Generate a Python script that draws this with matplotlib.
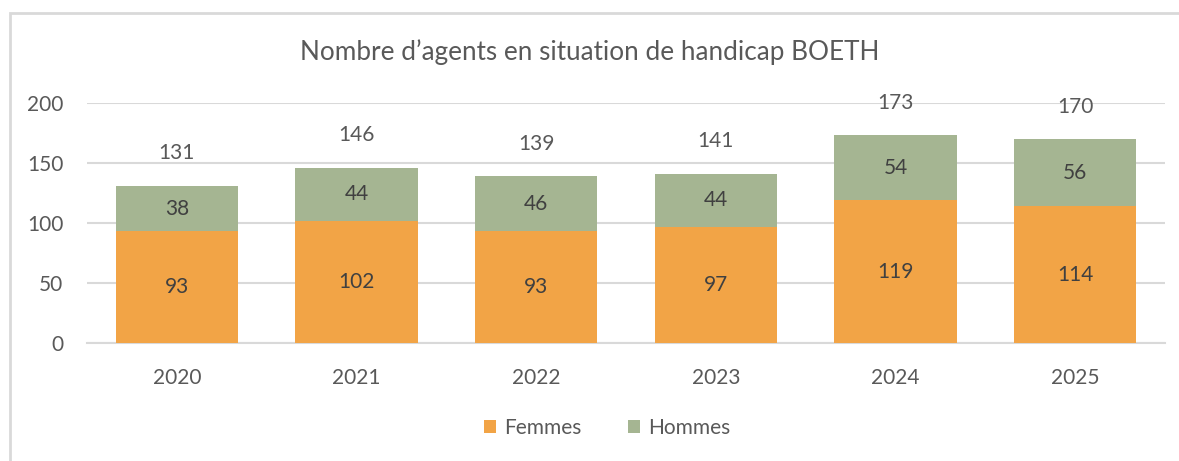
import matplotlib.pyplot as plt
from matplotlib.patches import Rectangle
import numpy as np

plt.rcParams['font.family'] = ['Lato', 'DejaVu Sans']

years = ['2020', '2021', '2022', '2023', '2024', '2025']
femmes = [93, 102, 93, 97, 119, 114]
hommes = [38, 44, 46, 44, 54, 56]
totals = [131, 146, 139, 141, 173, 170]

orange = '#F2A446'
green = '#A5B592'
text_col = '#595959'
grid_col = '#D9D9D9'

fig = plt.figure(figsize=(11.79, 4.61), dpi=100)
ax = fig.add_axes([0.0738, 0.256, 0.9144, 0.5206])

x = np.arange(len(years))
w = 0.68
ax.bar(x, femmes, w, color=orange, label='Femmes', zorder=3)
ax.bar(x, hommes, w, bottom=femmes, color=green, label='Hommes', zorder=3)

for i in range(len(years)):
    ax.text(x[i], femmes[i] / 2, str(femmes[i]), ha='center', va='center',
            fontsize=15, color='#404040', zorder=4)
    ax.text(x[i], femmes[i] + hommes[i] / 2, str(hommes[i]), ha='center', va='center',
            fontsize=15, color='#404040', zorder=4)
    ax.text(x[i], totals[i] + 27, str(totals[i]), ha='center', va='center',
            fontsize=15, color=text_col, zorder=4)

ax.set_xlim(-0.5, len(years) - 0.5)
ax.set_ylim(0, 200)
ax.set_yticks([0, 50, 100, 150, 200])
ax.set_xticks(x)
ax.set_xticklabels(years)
ax.yaxis.grid(True, color=grid_col, linewidth=1.5, zorder=0)
ax.set_axisbelow(True)
for s in ['top', 'right', 'left']:
    ax.spines[s].set_visible(False)
ax.spines['bottom'].set_color(grid_col)
ax.spines['bottom'].set_linewidth(1.5)
ax.tick_params(axis='both', length=0, labelsize=15, labelcolor=text_col)
ax.tick_params(axis='y', pad=17)
ax.tick_params(axis='x', pad=18)

fig.text(0.5, 0.887, 'Nombre d\u2019agents en situation de handicap BOETH',
         ha='center', va='center', fontsize=18.8, color=text_col)

fig.legend(loc='center', bbox_to_anchor=(0.515, 0.072), ncol=2, frameon=False,
           fontsize=15, labelcolor=text_col, handlelength=0.6, handleheight=0.6,
           handletextpad=0.4, columnspacing=2.2)

fig.patches.append(Rectangle((10 / 1179, -0.1), 1.2, 1 - 13 / 461 + 0.1,
                             transform=fig.transFigure, fill=False,
                             edgecolor=grid_col, linewidth=2))

fig.savefig('out.png', dpi=100)
